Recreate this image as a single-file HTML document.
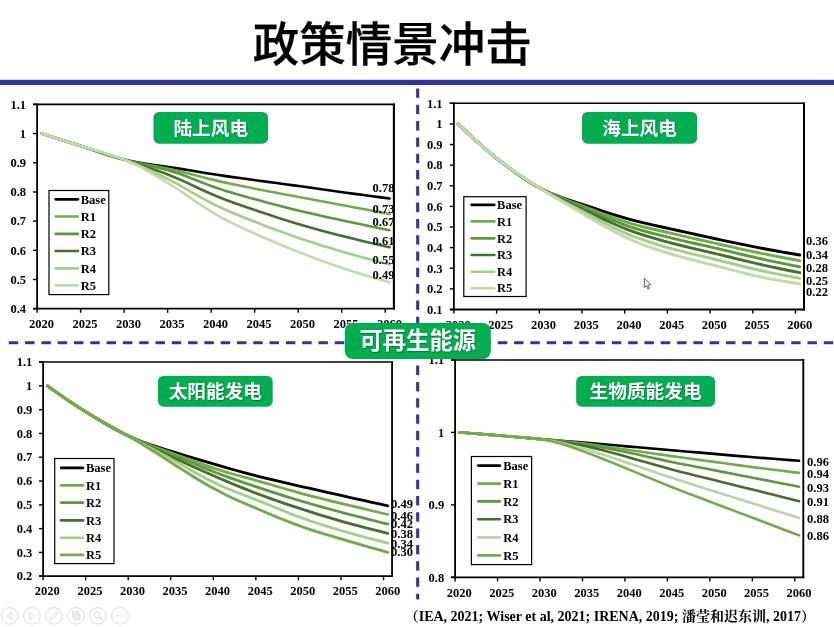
<!DOCTYPE html>
<html lang="zh-CN">
<head>
<meta charset="utf-8">
<title>政策情景冲击</title>
<style>
html,body{margin:0;padding:0;background:#fff;}
body{width:834px;height:627px;overflow:hidden;position:relative;}
svg{position:absolute;left:0;top:0;display:block;}
svg text{font-family:"Liberation Serif", "Noto Serif CJK SC", serif;font-weight:700;font-size:12.5px;fill:#000;}
svg text.bd{font-family:"Liberation Sans","Noto Sans CJK SC",sans-serif;fill:#fff;text-shadow:0.6px 0.8px 1px rgba(0,70,25,.5);}
svg text.ttl{font-family:"Liberation Sans","Noto Sans CJK SC",sans-serif;font-size:46.5px;font-weight:500;stroke:#000;stroke-width:0.25px;}
</style>
</head>
<body>
<svg width="834" height="627" viewBox="0 0 834 627">
<rect width="834" height="627" fill="#ffffff"/>

<text x="392.2" y="60.5" text-anchor="middle" class="ttl">政策情景冲击</text>
<rect x="0" y="79.8" width="834" height="5.25" fill="#333399"/>
<g stroke="#3a2f9e" fill="none">
<line x1="8.8" y1="343.7" x2="834" y2="343.7" stroke="#9a98b8" stroke-opacity=".45" stroke-width="2.6" stroke-dasharray="9.4 6.9"/>
<line x1="418.4" y1="89.3" x2="418.4" y2="600" stroke="#9a98b8" stroke-opacity=".45" stroke-width="2.9" stroke-dasharray="9.3 7"/>
<line x1="8.8" y1="342.6" x2="834" y2="342.6" stroke-width="2.6" stroke-dasharray="9.4 6.9"/>
<line x1="417.6" y1="88.5" x2="417.6" y2="599.2" stroke-width="2.9" stroke-dasharray="9.3 7"/>
</g>
<g>
<polyline points="41.45,133.5 50.15,136.27 58.86,139.03 67.56,141.79 76.26,144.57 84.96,147.39 93.67,150.28 102.37,153.2 111.07,156.01 119.77,158.53 128.48,160.64 137.18,162.34 145.88,163.75 154.58,165 163.29,166.22 171.99,167.49 180.69,168.86 189.39,170.29 198.1,171.74 206.8,173.17 215.5,174.54 224.2,175.85 232.9,177.1 241.61,178.32 250.31,179.51 259.01,180.69 267.71,181.86 276.42,183.02 285.12,184.17 293.82,185.34 302.52,186.53 311.23,187.74 319.93,188.98 328.63,190.22 337.33,191.46 346.04,192.68 354.74,193.88 363.44,195.06 372.14,196.22 380.85,197.36 389.55,198.5" fill="none" stroke="#000000" stroke-width="2.6" stroke-linecap="round" stroke-linejoin="round"/>
<polyline points="41.45,133.5 50.15,136.27 58.86,139.03 67.56,141.79 76.26,144.56 84.96,147.36 93.67,150.2 102.37,153.06 111.07,155.84 119.77,158.43 128.48,160.72 137.18,162.71 145.88,164.46 154.58,166.1 163.29,167.77 171.99,169.59 180.69,171.61 189.39,173.79 198.1,176.04 206.8,178.27 215.5,180.38 224.2,182.36 232.9,184.22 241.61,186.02 250.31,187.77 259.01,189.48 267.71,191.16 276.42,192.82 285.12,194.46 293.82,196.08 302.52,197.7 311.23,199.32 319.93,200.94 328.63,202.56 337.33,204.18 346.04,205.8 354.74,207.44 363.44,209.07 372.14,210.71 380.85,212.35 389.55,214" fill="none" stroke="#70ad47" stroke-width="2.6" stroke-linecap="round" stroke-linejoin="round"/>
<polyline points="41.45,133.5 50.15,136.27 58.86,139.03 67.56,141.79 76.26,144.55 84.96,147.34 93.67,150.15 102.37,152.96 111.07,155.73 119.77,158.36 128.48,160.77 137.18,162.95 145.88,164.94 154.58,166.89 163.29,168.98 171.99,171.41 180.69,174.26 189.39,177.51 198.1,180.96 206.8,184.36 215.5,187.52 224.2,190.39 232.9,193.03 241.61,195.51 250.31,197.92 259.01,200.29 267.71,202.64 276.42,204.95 285.12,207.22 293.82,209.41 302.52,211.53 311.23,213.57 319.93,215.54 328.63,217.45 337.33,219.33 346.04,221.19 354.74,223.03 363.44,224.85 372.14,226.65 380.85,228.43 389.55,230.2" fill="none" stroke="#5a9a3c" stroke-width="2.6" stroke-linecap="round" stroke-linejoin="round"/>
<polyline points="41.45,133.5 50.15,136.27 58.86,139.03 67.56,141.79 76.26,144.54 84.96,147.29 93.67,150.01 102.37,152.74 111.07,155.47 119.77,158.23 128.48,161.02 137.18,163.84 145.88,166.72 154.58,169.68 163.29,172.81 171.99,176.19 180.69,179.89 189.39,183.87 198.1,187.97 206.8,191.97 215.5,195.73 224.2,199.19 232.9,202.42 241.61,205.48 250.31,208.46 259.01,211.4 267.71,214.31 276.42,217.18 285.12,219.99 293.82,222.7 302.52,225.3 311.23,227.78 319.93,230.16 328.63,232.45 337.33,234.68 346.04,236.88 354.74,239.04 363.44,241.16 372.14,243.24 380.85,245.28 389.55,247.3" fill="none" stroke="#45702e" stroke-width="2.6" stroke-linecap="round" stroke-linejoin="round"/>
<polyline points="41.45,133.5 50.15,136.27 58.86,139.03 67.56,141.79 76.26,144.53 84.96,147.25 93.67,149.92 102.37,152.57 111.07,155.28 119.77,158.14 128.48,161.27 137.18,164.71 145.88,168.47 154.58,172.5 163.29,176.75 171.99,181.21 180.69,185.92 189.39,190.83 198.1,195.79 206.8,200.59 215.5,205.06 224.2,209.16 232.9,212.95 241.61,216.53 250.31,219.99 259.01,223.37 267.71,226.7 276.42,229.96 285.12,233.15 293.82,236.24 302.52,239.22 311.23,242.1 319.93,244.89 328.63,247.59 337.33,250.2 346.04,252.75 354.74,255.23 363.44,257.64 372.14,259.98 380.85,262.26 389.55,264.5" fill="none" stroke="#a2d086" stroke-width="2.6" stroke-linecap="round" stroke-linejoin="round"/>
<polyline points="41.45,133.5 50.15,136.27 58.86,139.03 67.56,141.79 76.26,144.53 84.96,147.22 93.67,149.86 102.37,152.47 111.07,155.16 119.77,158.1 128.48,161.48 137.18,165.4 145.88,169.88 154.58,174.8 163.29,180.03 171.99,185.51 180.69,191.23 189.39,197.16 198.1,203.13 206.8,208.86 215.5,214.17 224.2,218.99 232.9,223.42 241.61,227.58 250.31,231.57 259.01,235.45 267.71,239.26 276.42,242.97 285.12,246.59 293.82,250.11 302.52,253.54 311.23,256.87 319.93,260.11 328.63,263.26 337.33,266.29 346.04,269.21 354.74,272.03 363.44,274.73 372.14,277.33 380.85,279.85 389.55,282.3" fill="none" stroke="#c0dbab" stroke-width="2.6" stroke-linecap="round" stroke-linejoin="round"/>
<text x="372.5" y="191.85">0.78</text>
<text x="372.5" y="212.55">0.73</text>
<text x="372.5" y="226.05">0.67</text>
<text x="372.5" y="244.55">0.61</text>
<text x="372.5" y="264.25">0.55</text>
<text x="372.5" y="278.55">0.49</text>
<line x1="37.1" y1="103.6" x2="37.1" y2="309.6" stroke="#000" stroke-width="1.8"/>
<line x1="33" y1="308.7" x2="394.95" y2="308.7" stroke="#000" stroke-width="1.8"/>
<line x1="393.9" y1="103.6" x2="393.9" y2="309.6" stroke="#000" stroke-width="2.1"/>
<line x1="33" y1="104.4" x2="394.95" y2="104.4" stroke="#000" stroke-width="1.6"/>
<line x1="33" y1="104.4" x2="37.1" y2="104.4" stroke="#000" stroke-width="1.4"/>
<text x="26" y="108.65" text-anchor="end">1.1</text>
<line x1="33" y1="133.59" x2="37.1" y2="133.59" stroke="#000" stroke-width="1.4"/>
<text x="26" y="137.84" text-anchor="end">1</text>
<line x1="33" y1="162.77" x2="37.1" y2="162.77" stroke="#000" stroke-width="1.4"/>
<text x="26" y="167.02" text-anchor="end">0.9</text>
<line x1="33" y1="191.96" x2="37.1" y2="191.96" stroke="#000" stroke-width="1.4"/>
<text x="26" y="196.21" text-anchor="end">0.8</text>
<line x1="33" y1="221.14" x2="37.1" y2="221.14" stroke="#000" stroke-width="1.4"/>
<text x="26" y="225.39" text-anchor="end">0.7</text>
<line x1="33" y1="250.33" x2="37.1" y2="250.33" stroke="#000" stroke-width="1.4"/>
<text x="26" y="254.58" text-anchor="end">0.6</text>
<line x1="33" y1="279.52" x2="37.1" y2="279.52" stroke="#000" stroke-width="1.4"/>
<text x="26" y="283.77" text-anchor="end">0.5</text>
<line x1="33" y1="308.7" x2="37.1" y2="308.7" stroke="#000" stroke-width="1.4"/>
<text x="26" y="312.95" text-anchor="end">0.4</text>
<line x1="37.1" y1="308.7" x2="37.1" y2="312.8" stroke="#000" stroke-width="1.4"/>
<text x="41.45" y="328.2" text-anchor="middle">2020</text>
<line x1="80.61" y1="308.7" x2="80.61" y2="312.8" stroke="#000" stroke-width="1.4"/>
<text x="84.96" y="328.2" text-anchor="middle">2025</text>
<line x1="124.12" y1="308.7" x2="124.12" y2="312.8" stroke="#000" stroke-width="1.4"/>
<text x="128.48" y="328.2" text-anchor="middle">2030</text>
<line x1="167.64" y1="308.7" x2="167.64" y2="312.8" stroke="#000" stroke-width="1.4"/>
<text x="171.99" y="328.2" text-anchor="middle">2035</text>
<line x1="211.15" y1="308.7" x2="211.15" y2="312.8" stroke="#000" stroke-width="1.4"/>
<text x="215.5" y="328.2" text-anchor="middle">2040</text>
<line x1="254.66" y1="308.7" x2="254.66" y2="312.8" stroke="#000" stroke-width="1.4"/>
<text x="259.01" y="328.2" text-anchor="middle">2045</text>
<line x1="298.17" y1="308.7" x2="298.17" y2="312.8" stroke="#000" stroke-width="1.4"/>
<text x="302.52" y="328.2" text-anchor="middle">2050</text>
<line x1="341.69" y1="308.7" x2="341.69" y2="312.8" stroke="#000" stroke-width="1.4"/>
<text x="346.04" y="328.2" text-anchor="middle">2055</text>
<line x1="385.2" y1="308.7" x2="385.2" y2="312.8" stroke="#000" stroke-width="1.4"/>
<text x="389.55" y="328.2" text-anchor="middle">2060</text>
<rect x="49" y="190.5" width="59.8" height="104.1" fill="#fff" stroke="#000" stroke-width="1.2"/>
<line x1="55.7" y1="199.3" x2="77.9" y2="199.3" stroke="#000000" stroke-width="2.65" stroke-linecap="round"/>
<text x="80.7" y="203.55">Base</text>
<line x1="55.7" y1="216.5" x2="77.9" y2="216.5" stroke="#70ad47" stroke-width="2.65" stroke-linecap="round"/>
<text x="80.7" y="220.75">R1</text>
<line x1="55.7" y1="233.9" x2="77.9" y2="233.9" stroke="#5a9a3c" stroke-width="2.65" stroke-linecap="round"/>
<text x="80.7" y="238.15">R2</text>
<line x1="55.7" y1="251" x2="77.9" y2="251" stroke="#45702e" stroke-width="2.65" stroke-linecap="round"/>
<text x="80.7" y="255.25">R3</text>
<line x1="55.7" y1="268.4" x2="77.9" y2="268.4" stroke="#a2d086" stroke-width="2.65" stroke-linecap="round"/>
<text x="80.7" y="272.65">R4</text>
<line x1="55.7" y1="285.4" x2="77.9" y2="285.4" stroke="#c0dbab" stroke-width="2.65" stroke-linecap="round"/>
<text x="80.7" y="289.65">R5</text>
</g>
<g>
<polyline points="458.17,124 466.71,132.1 475.25,140 483.79,147.56 492.33,154.76 500.86,161.61 509.4,168.16 517.94,174.4 526.48,180.21 535.02,185.42 543.56,189.92 552.1,193.75 560.64,197.05 569.18,200.02 577.72,202.85 586.25,205.66 594.79,208.5 603.33,211.34 611.87,214.1 620.41,216.71 628.95,219.13 637.49,221.34 646.03,223.39 654.57,225.34 663.11,227.23 671.65,229.12 680.18,231.01 688.72,232.9 697.26,234.78 705.8,236.64 714.34,238.49 722.88,240.33 731.42,242.14 739.96,243.93 748.5,245.67 757.04,247.35 765.57,248.98 774.11,250.55 782.65,252.07 791.19,253.55 799.73,255" fill="none" stroke="#000000" stroke-width="2.9" stroke-linecap="round" stroke-linejoin="round"/>
<polyline points="458.17,124 466.71,132.1 475.25,140 483.79,147.56 492.33,154.75 500.86,161.58 509.4,168.09 517.94,174.28 526.48,180.07 535.02,185.34 543.56,190 552.1,194.08 560.64,197.68 569.18,200.99 577.72,204.19 586.25,207.4 594.79,210.69 603.33,213.99 611.87,217.21 620.41,220.22 628.95,222.94 637.49,225.35 646.03,227.51 654.57,229.53 663.11,231.48 671.65,233.42 680.18,235.37 688.72,237.32 697.26,239.26 705.8,241.18 714.34,243.1 722.88,245.02 731.42,246.93 739.96,248.81 748.5,250.66 757.04,252.46 765.57,254.2 774.11,255.88 782.65,257.53 791.19,259.13 799.73,260.7" fill="none" stroke="#70ad47" stroke-width="2.9" stroke-linecap="round" stroke-linejoin="round"/>
<polyline points="458.17,124 466.71,132.1 475.25,140 483.79,147.56 492.33,154.75 500.86,161.56 509.4,168.03 517.94,174.18 526.48,179.95 535.02,185.27 543.56,190.08 552.1,194.38 560.64,198.28 569.18,201.91 577.72,205.45 586.25,209.01 594.79,212.65 603.33,216.33 611.87,219.91 620.41,223.27 628.95,226.32 637.49,229.05 646.03,231.51 654.57,233.8 663.11,235.96 671.65,238.05 680.18,240.08 688.72,242.04 697.26,243.97 705.8,245.89 714.34,247.85 722.88,249.87 731.42,251.92 739.96,253.97 748.5,255.99 757.04,257.94 765.57,259.82 774.11,261.64 782.65,263.4 791.19,265.12 799.73,266.8" fill="none" stroke="#5a9a3c" stroke-width="2.9" stroke-linecap="round" stroke-linejoin="round"/>
<polyline points="458.17,124 466.71,132.1 475.25,140 483.79,147.56 492.33,154.74 500.86,161.53 509.4,167.97 517.94,174.06 526.48,179.82 535.02,185.2 543.56,190.18 552.1,194.77 560.64,199.03 569.18,203.07 577.72,207.03 586.25,211 594.79,215.03 603.33,219.08 611.87,223.03 620.41,226.73 628.95,230.11 637.49,233.15 646.03,235.9 654.57,238.45 663.11,240.84 671.65,243.12 680.18,245.28 688.72,247.34 697.26,249.35 705.8,251.33 714.34,253.35 722.88,255.41 731.42,257.51 739.96,259.6 748.5,261.65 757.04,263.64 765.57,265.56 774.11,267.42 782.65,269.22 791.19,270.98 799.73,272.7" fill="none" stroke="#45702e" stroke-width="2.9" stroke-linecap="round" stroke-linejoin="round"/>
<polyline points="458.17,124 466.71,132.1 475.25,140 483.79,147.56 492.33,154.73 500.86,161.5 509.4,167.89 517.94,173.93 526.48,179.66 535.02,185.11 543.56,190.3 552.1,195.22 560.64,199.92 569.18,204.45 577.72,208.91 586.25,213.39 594.79,217.91 603.33,222.43 611.87,226.83 620.41,230.94 628.95,234.66 637.49,237.98 646.03,240.98 654.57,243.72 663.11,246.28 671.65,248.69 680.18,250.95 688.72,253.09 697.26,255.15 705.8,257.19 714.34,259.26 722.88,261.37 731.42,263.52 739.96,265.66 748.5,267.73 757.04,269.72 765.57,271.61 774.11,273.41 782.65,275.13 791.19,276.79 799.73,278.4" fill="none" stroke="#a2d086" stroke-width="2.9" stroke-linecap="round" stroke-linejoin="round"/>
<polyline points="458.17,124 466.71,132.1 475.25,140 483.79,147.56 492.33,154.73 500.86,161.48 509.4,167.82 517.94,173.81 526.48,179.53 535.02,185.04 543.56,190.42 552.1,195.68 560.64,200.81 569.18,205.84 577.72,210.8 586.25,215.74 594.79,220.69 603.33,225.6 611.87,230.36 620.41,234.81 628.95,238.86 637.49,242.5 646.03,245.8 654.57,248.83 663.11,251.64 671.65,254.26 680.18,256.69 688.72,258.97 697.26,261.15 705.8,263.3 714.34,265.46 722.88,267.68 731.42,269.93 739.96,272.13 748.5,274.23 757.04,276.17 765.57,277.96 774.11,279.61 782.65,281.13 791.19,282.55 799.73,283.9" fill="none" stroke="#c0dbab" stroke-width="2.9" stroke-linecap="round" stroke-linejoin="round"/>
<text x="806" y="245.45">0.36</text>
<text x="806" y="259.25">0.34</text>
<text x="806" y="271.85">0.28</text>
<text x="806" y="285.05">0.25</text>
<text x="806" y="296.25">0.22</text>
<line x1="453.9" y1="102.5" x2="453.9" y2="310.4" stroke="#000" stroke-width="1.8"/>
<line x1="449.8" y1="309.5" x2="805" y2="309.5" stroke="#000" stroke-width="1.8"/>
<line x1="804" y1="102.5" x2="804" y2="310.4" stroke="#000" stroke-width="2"/>
<line x1="449.8" y1="103.3" x2="805" y2="103.3" stroke="#000" stroke-width="1.6"/>
<line x1="449.8" y1="103.3" x2="453.9" y2="103.3" stroke="#000" stroke-width="1.4"/>
<text x="442.6" y="107.55" text-anchor="end">1.1</text>
<line x1="449.8" y1="123.92" x2="453.9" y2="123.92" stroke="#000" stroke-width="1.4"/>
<text x="442.6" y="128.17" text-anchor="end">1</text>
<line x1="449.8" y1="144.54" x2="453.9" y2="144.54" stroke="#000" stroke-width="1.4"/>
<text x="442.6" y="148.79" text-anchor="end">0.9</text>
<line x1="449.8" y1="165.16" x2="453.9" y2="165.16" stroke="#000" stroke-width="1.4"/>
<text x="442.6" y="169.41" text-anchor="end">0.8</text>
<line x1="449.8" y1="185.78" x2="453.9" y2="185.78" stroke="#000" stroke-width="1.4"/>
<text x="442.6" y="190.03" text-anchor="end">0.7</text>
<line x1="449.8" y1="206.4" x2="453.9" y2="206.4" stroke="#000" stroke-width="1.4"/>
<text x="442.6" y="210.65" text-anchor="end">0.6</text>
<line x1="449.8" y1="227.02" x2="453.9" y2="227.02" stroke="#000" stroke-width="1.4"/>
<text x="442.6" y="231.27" text-anchor="end">0.5</text>
<line x1="449.8" y1="247.64" x2="453.9" y2="247.64" stroke="#000" stroke-width="1.4"/>
<text x="442.6" y="251.89" text-anchor="end">0.4</text>
<line x1="449.8" y1="268.26" x2="453.9" y2="268.26" stroke="#000" stroke-width="1.4"/>
<text x="442.6" y="272.51" text-anchor="end">0.3</text>
<line x1="449.8" y1="288.88" x2="453.9" y2="288.88" stroke="#000" stroke-width="1.4"/>
<text x="442.6" y="293.13" text-anchor="end">0.2</text>
<line x1="449.8" y1="309.5" x2="453.9" y2="309.5" stroke="#000" stroke-width="1.4"/>
<text x="442.6" y="313.75" text-anchor="end">0.1</text>
<line x1="453.9" y1="309.5" x2="453.9" y2="313.6" stroke="#000" stroke-width="1.4"/>
<text x="458.17" y="329" text-anchor="middle">2020</text>
<line x1="496.6" y1="309.5" x2="496.6" y2="313.6" stroke="#000" stroke-width="1.4"/>
<text x="500.86" y="329" text-anchor="middle">2025</text>
<line x1="539.29" y1="309.5" x2="539.29" y2="313.6" stroke="#000" stroke-width="1.4"/>
<text x="543.56" y="329" text-anchor="middle">2030</text>
<line x1="581.99" y1="309.5" x2="581.99" y2="313.6" stroke="#000" stroke-width="1.4"/>
<text x="586.25" y="329" text-anchor="middle">2035</text>
<line x1="624.68" y1="309.5" x2="624.68" y2="313.6" stroke="#000" stroke-width="1.4"/>
<text x="628.95" y="329" text-anchor="middle">2040</text>
<line x1="667.38" y1="309.5" x2="667.38" y2="313.6" stroke="#000" stroke-width="1.4"/>
<text x="671.65" y="329" text-anchor="middle">2045</text>
<line x1="710.07" y1="309.5" x2="710.07" y2="313.6" stroke="#000" stroke-width="1.4"/>
<text x="714.34" y="329" text-anchor="middle">2050</text>
<line x1="752.77" y1="309.5" x2="752.77" y2="313.6" stroke="#000" stroke-width="1.4"/>
<text x="757.04" y="329" text-anchor="middle">2055</text>
<line x1="795.46" y1="309.5" x2="795.46" y2="313.6" stroke="#000" stroke-width="1.4"/>
<text x="799.73" y="329" text-anchor="middle">2060</text>
<rect x="463.8" y="196.7" width="62.3" height="99.8" fill="#fff" stroke="#000" stroke-width="1.2"/>
<line x1="471.6" y1="204.8" x2="494.3" y2="204.8" stroke="#000000" stroke-width="2.65" stroke-linecap="round"/>
<text x="497.1" y="209.05">Base</text>
<line x1="471.6" y1="221.3" x2="494.3" y2="221.3" stroke="#70ad47" stroke-width="2.65" stroke-linecap="round"/>
<text x="497.1" y="225.55">R1</text>
<line x1="471.6" y1="238.3" x2="494.3" y2="238.3" stroke="#5a9a3c" stroke-width="2.65" stroke-linecap="round"/>
<text x="497.1" y="242.55">R2</text>
<line x1="471.6" y1="255" x2="494.3" y2="255" stroke="#45702e" stroke-width="2.65" stroke-linecap="round"/>
<text x="497.1" y="259.25">R3</text>
<line x1="471.6" y1="271.7" x2="494.3" y2="271.7" stroke="#a2d086" stroke-width="2.65" stroke-linecap="round"/>
<text x="497.1" y="275.95">R4</text>
<line x1="471.6" y1="288.2" x2="494.3" y2="288.2" stroke="#c0dbab" stroke-width="2.65" stroke-linecap="round"/>
<text x="497.1" y="292.45">R5</text>
</g>
<g>
<polyline points="47.36,385.9 55.87,391.91 64.38,397.8 72.89,403.53 81.4,409.06 89.91,414.42 98.42,419.64 106.93,424.69 115.44,429.48 123.95,433.88 132.47,437.79 140.98,441.23 149.49,444.28 158,447.09 166.51,449.77 175.02,452.41 183.53,455.03 192.04,457.63 200.55,460.19 209.06,462.7 217.57,465.18 226.09,467.61 234.6,470.01 243.11,472.36 251.62,474.63 260.13,476.82 268.64,478.93 277.15,480.95 285.66,482.92 294.17,484.87 302.68,486.8 311.2,488.74 319.71,490.66 328.22,492.58 336.73,494.49 345.24,496.39 353.75,498.29 362.26,500.18 370.77,502.06 379.28,503.93 387.79,505.8" fill="none" stroke="#000000" stroke-width="2.8" stroke-linecap="round" stroke-linejoin="round"/>
<polyline points="47.36,385.9 55.87,391.91 64.38,397.8 72.89,403.52 81.4,409.05 89.91,414.39 98.42,419.57 106.93,424.58 115.44,429.35 123.95,433.8 132.47,437.87 140.98,441.56 149.49,444.92 158,448.09 166.51,451.17 175.02,454.27 183.53,457.4 192.04,460.55 200.55,463.65 209.06,466.63 217.57,469.43 226.09,472.04 234.6,474.49 243.11,476.84 251.62,479.19 260.13,481.57 268.64,484.02 277.15,486.52 285.66,489.02 294.17,491.46 302.68,493.81 311.2,496.05 319.71,498.2 328.22,500.29 336.73,502.35 345.24,504.4 353.75,506.44 362.26,508.48 370.77,510.5 379.28,512.5 387.79,514.5" fill="none" stroke="#70ad47" stroke-width="2.8" stroke-linecap="round" stroke-linejoin="round"/>
<polyline points="47.36,385.9 55.87,391.91 64.38,397.8 72.89,403.52 81.4,409.05 89.91,414.37 98.42,419.52 106.93,424.48 115.44,429.24 123.95,433.74 132.47,437.95 140.98,441.87 149.49,445.54 158,449.05 166.51,452.5 175.02,455.96 183.53,459.47 192.04,462.99 200.55,466.49 209.06,469.9 217.57,473.19 226.09,476.35 234.6,479.39 243.11,482.35 251.62,485.23 260.13,488.08 268.64,490.88 277.15,493.64 285.66,496.34 294.17,498.98 302.68,501.53 311.2,504 319.71,506.4 328.22,508.73 336.73,511.02 345.24,513.28 353.75,515.51 362.26,517.7 370.77,519.86 379.28,521.99 387.79,524.1" fill="none" stroke="#5a9a3c" stroke-width="2.8" stroke-linecap="round" stroke-linejoin="round"/>
<polyline points="47.36,385.9 55.87,391.91 64.38,397.8 72.89,403.52 81.4,409.04 89.91,414.34 98.42,419.44 106.93,424.35 115.44,429.09 123.95,433.66 132.47,438.08 140.98,442.35 149.49,446.48 158,450.5 166.51,454.47 175.02,458.4 183.53,462.32 192.04,466.22 200.55,470.06 209.06,473.84 217.57,477.54 226.09,481.15 234.6,484.68 243.11,488.13 251.62,491.48 260.13,494.71 268.64,497.84 277.15,500.87 285.66,503.81 294.17,506.67 302.68,509.45 311.2,512.18 319.71,514.83 328.22,517.42 336.73,519.92 345.24,522.34 353.75,524.67 362.26,526.93 370.77,529.11 379.28,531.23 387.79,533.3" fill="none" stroke="#486d2c" stroke-width="2.8" stroke-linecap="round" stroke-linejoin="round"/>
<polyline points="47.36,385.9 55.87,391.91 64.38,397.8 72.89,403.52 81.4,409.03 89.91,414.32 98.42,419.37 106.93,424.23 115.44,428.95 123.95,433.59 132.47,438.19 140.98,442.77 149.49,447.33 158,451.89 166.51,456.46 175.02,461.12 183.53,465.87 192.04,470.69 200.55,475.45 209.06,479.98 217.57,484.16 226.09,487.97 234.6,491.48 243.11,494.8 251.62,498.08 260.13,501.41 268.64,504.82 277.15,508.3 285.66,511.75 294.17,515.08 302.68,518.24 311.2,521.21 319.71,524.01 328.22,526.69 336.73,529.26 345.24,531.75 353.75,534.16 362.26,536.5 370.77,538.76 379.28,540.95 387.79,543.1" fill="none" stroke="#a2d086" stroke-width="2.8" stroke-linecap="round" stroke-linejoin="round"/>
<polyline points="47.36,385.9 55.87,391.91 64.38,397.8 72.89,403.52 81.4,409.02 89.91,414.28 98.42,419.28 106.93,424.07 115.44,428.77 123.95,433.5 132.47,438.4 140.98,443.51 149.49,448.8 158,454.19 166.51,459.6 175.02,465 183.53,470.38 192.04,475.73 200.55,480.96 209.06,485.94 217.57,490.6 226.09,494.9 234.6,498.9 243.11,502.7 251.62,506.38 260.13,510.01 268.64,513.61 277.15,517.17 285.66,520.63 294.17,523.93 302.68,527.02 311.2,529.91 319.71,532.61 328.22,535.2 336.73,537.71 345.24,540.2 353.75,542.67 362.26,545.12 370.77,547.54 379.28,549.93 387.79,552.3" fill="none" stroke="#70ad47" stroke-width="2.8" stroke-linecap="round" stroke-linejoin="round"/>
<text x="391" y="508.15">0.49</text>
<text x="391" y="520.25">0.46</text>
<text x="391" y="527.65">0.42</text>
<text x="391" y="537.85">0.38</text>
<text x="391" y="548.05">0.34</text>
<text x="391" y="556.25">0.30</text>
<line x1="43.1" y1="361.25" x2="43.1" y2="577.1" stroke="#000" stroke-width="1.8"/>
<line x1="39" y1="576.2" x2="392.95" y2="576.2" stroke="#000" stroke-width="1.8"/>
<line x1="392.05" y1="361.25" x2="392.05" y2="577.1" stroke="#000" stroke-width="1.8"/>
<line x1="39" y1="362.05" x2="392.95" y2="362.05" stroke="#000" stroke-width="1.6"/>
<line x1="39" y1="362.05" x2="43.1" y2="362.05" stroke="#000" stroke-width="1.4"/>
<text x="32.3" y="366.3" text-anchor="end">1.1</text>
<line x1="39" y1="385.85" x2="43.1" y2="385.85" stroke="#000" stroke-width="1.4"/>
<text x="32.3" y="390.1" text-anchor="end">1</text>
<line x1="39" y1="409.64" x2="43.1" y2="409.64" stroke="#000" stroke-width="1.4"/>
<text x="32.3" y="413.89" text-anchor="end">0.9</text>
<line x1="39" y1="433.44" x2="43.1" y2="433.44" stroke="#000" stroke-width="1.4"/>
<text x="32.3" y="437.69" text-anchor="end">0.8</text>
<line x1="39" y1="457.23" x2="43.1" y2="457.23" stroke="#000" stroke-width="1.4"/>
<text x="32.3" y="461.48" text-anchor="end">0.7</text>
<line x1="39" y1="481.03" x2="43.1" y2="481.03" stroke="#000" stroke-width="1.4"/>
<text x="32.3" y="485.28" text-anchor="end">0.6</text>
<line x1="39" y1="504.82" x2="43.1" y2="504.82" stroke="#000" stroke-width="1.4"/>
<text x="32.3" y="509.07" text-anchor="end">0.5</text>
<line x1="39" y1="528.62" x2="43.1" y2="528.62" stroke="#000" stroke-width="1.4"/>
<text x="32.3" y="532.87" text-anchor="end">0.4</text>
<line x1="39" y1="552.41" x2="43.1" y2="552.41" stroke="#000" stroke-width="1.4"/>
<text x="32.3" y="556.66" text-anchor="end">0.3</text>
<line x1="39" y1="576.21" x2="43.1" y2="576.21" stroke="#000" stroke-width="1.4"/>
<text x="32.3" y="580.46" text-anchor="end">0.2</text>
<line x1="43.1" y1="576.2" x2="43.1" y2="580.3" stroke="#000" stroke-width="1.4"/>
<text x="47.36" y="595.4" text-anchor="middle">2020</text>
<line x1="85.65" y1="576.2" x2="85.65" y2="580.3" stroke="#000" stroke-width="1.4"/>
<text x="89.91" y="595.4" text-anchor="middle">2025</text>
<line x1="128.21" y1="576.2" x2="128.21" y2="580.3" stroke="#000" stroke-width="1.4"/>
<text x="132.47" y="595.4" text-anchor="middle">2030</text>
<line x1="170.76" y1="576.2" x2="170.76" y2="580.3" stroke="#000" stroke-width="1.4"/>
<text x="175.02" y="595.4" text-anchor="middle">2035</text>
<line x1="213.32" y1="576.2" x2="213.32" y2="580.3" stroke="#000" stroke-width="1.4"/>
<text x="217.57" y="595.4" text-anchor="middle">2040</text>
<line x1="255.87" y1="576.2" x2="255.87" y2="580.3" stroke="#000" stroke-width="1.4"/>
<text x="260.13" y="595.4" text-anchor="middle">2045</text>
<line x1="298.43" y1="576.2" x2="298.43" y2="580.3" stroke="#000" stroke-width="1.4"/>
<text x="302.68" y="595.4" text-anchor="middle">2050</text>
<line x1="340.98" y1="576.2" x2="340.98" y2="580.3" stroke="#000" stroke-width="1.4"/>
<text x="345.24" y="595.4" text-anchor="middle">2055</text>
<line x1="383.54" y1="576.2" x2="383.54" y2="580.3" stroke="#000" stroke-width="1.4"/>
<text x="387.79" y="595.4" text-anchor="middle">2060</text>
<rect x="54.7" y="458.5" width="59.3" height="105.1" fill="#fff" stroke="#000" stroke-width="1.2"/>
<line x1="61.1" y1="467.8" x2="83" y2="467.8" stroke="#000000" stroke-width="2.65" stroke-linecap="round"/>
<text x="86" y="472.05">Base</text>
<line x1="61.1" y1="485.4" x2="83" y2="485.4" stroke="#70ad47" stroke-width="2.65" stroke-linecap="round"/>
<text x="86" y="489.65">R1</text>
<line x1="61.1" y1="502.6" x2="83" y2="502.6" stroke="#5a9a3c" stroke-width="2.65" stroke-linecap="round"/>
<text x="86" y="506.85">R2</text>
<line x1="61.1" y1="520.3" x2="83" y2="520.3" stroke="#486d2c" stroke-width="2.65" stroke-linecap="round"/>
<text x="86" y="524.55">R3</text>
<line x1="61.1" y1="537.7" x2="83" y2="537.7" stroke="#a2d086" stroke-width="2.65" stroke-linecap="round"/>
<text x="86" y="541.95">R4</text>
<line x1="61.1" y1="554.9" x2="83" y2="554.9" stroke="#70ad47" stroke-width="2.65" stroke-linecap="round"/>
<text x="86" y="559.15">R5</text>
</g>
<g>
<polyline points="459.35,432.4 467.84,433.07 476.33,433.74 484.82,434.42 493.32,435.11 501.81,435.81 510.3,436.52 518.8,437.24 527.29,437.96 535.78,438.68 544.27,439.38 552.77,440.08 561.26,440.75 569.75,441.43 578.24,442.12 586.74,442.82 595.23,443.56 603.72,444.31 612.21,445.07 620.71,445.83 629.2,446.59 637.69,447.32 646.19,448.05 654.68,448.76 663.17,449.48 671.66,450.21 680.16,450.94 688.65,451.68 697.14,452.42 705.63,453.16 714.13,453.9 722.62,454.63 731.11,455.36 739.6,456.08 748.1,456.79 756.59,457.49 765.08,458.16 773.58,458.81 782.07,459.46 790.56,460.08 799.05,460.7" fill="none" stroke="#000000" stroke-width="2.6" stroke-linecap="round" stroke-linejoin="round"/>
<polyline points="459.35,432.4 467.84,433.07 476.33,433.74 484.82,434.42 493.32,435.11 501.81,435.8 510.3,436.5 518.8,437.2 527.29,437.92 535.78,438.66 544.27,439.42 552.77,440.22 561.26,441.06 569.75,441.93 578.24,442.87 586.74,443.88 595.23,444.99 603.72,446.18 612.21,447.44 620.71,448.71 629.2,449.98 637.69,451.22 646.19,452.46 654.68,453.68 663.17,454.89 671.66,456.09 680.16,457.27 688.65,458.44 697.14,459.6 705.63,460.75 714.13,461.9 722.62,463.05 731.11,464.2 739.6,465.34 748.1,466.47 756.59,467.59 765.08,468.68 773.58,469.76 782.07,470.82 790.56,471.86 799.05,472.9" fill="none" stroke="#70ad47" stroke-width="2.6" stroke-linecap="round" stroke-linejoin="round"/>
<polyline points="459.35,432.4 467.84,433.07 476.33,433.74 484.82,434.42 493.32,435.11 501.81,435.8 510.3,436.48 518.8,437.18 527.29,437.89 535.78,438.64 544.27,439.45 552.77,440.34 561.26,441.29 569.75,442.33 578.24,443.47 586.74,444.71 595.23,446.1 603.72,447.62 612.21,449.26 620.71,450.97 629.2,452.74 637.69,454.55 646.19,456.41 654.68,458.28 663.17,460.14 671.66,461.93 680.16,463.66 688.65,465.33 697.14,466.96 705.63,468.58 714.13,470.22 722.62,471.86 731.11,473.52 739.6,475.18 748.1,476.84 756.59,478.5 765.08,480.14 773.58,481.79 782.07,483.43 790.56,485.07 799.05,486.7" fill="none" stroke="#5a9a3c" stroke-width="2.6" stroke-linecap="round" stroke-linejoin="round"/>
<polyline points="459.35,432.4 467.84,433.07 476.33,433.74 484.82,434.42 493.32,435.11 501.81,435.79 510.3,436.46 518.8,437.14 527.29,437.84 535.78,438.63 544.27,439.53 552.77,440.59 561.26,441.81 569.75,443.2 578.24,444.75 586.74,446.46 595.23,448.37 603.72,450.49 612.21,452.76 620.71,455.12 629.2,457.5 637.69,459.9 646.19,462.32 654.68,464.74 663.17,467.12 671.66,469.42 680.16,471.65 688.65,473.81 697.14,475.92 705.63,478.01 714.13,480.11 722.62,482.2 731.11,484.3 739.6,486.4 748.1,488.5 756.59,490.6 765.08,492.72 773.58,494.83 782.07,496.95 790.56,499.07 799.05,501.2" fill="none" stroke="#4b6b2e" stroke-width="2.6" stroke-linecap="round" stroke-linejoin="round"/>
<polyline points="459.35,432.4 467.84,433.07 476.33,433.74 484.82,434.42 493.32,435.1 501.81,435.78 510.3,436.43 518.8,437.09 527.29,437.79 535.78,438.62 544.27,439.68 552.77,441.08 561.26,442.84 569.75,444.91 578.24,447.18 586.74,449.59 595.23,452.13 603.72,454.82 612.21,457.63 620.71,460.5 629.2,463.4 637.69,466.3 646.19,469.22 654.68,472.13 663.17,475.01 671.66,477.84 680.16,480.61 688.65,483.31 697.14,485.99 705.63,488.65 714.13,491.3 722.62,493.96 731.11,496.62 739.6,499.28 748.1,501.94 756.59,504.6 765.08,507.28 773.58,509.95 782.07,512.63 790.56,515.31 799.05,518" fill="none" stroke="#bad4a9" stroke-width="2.6" stroke-linecap="round" stroke-linejoin="round"/>
<polyline points="459.35,432.4 467.84,433.07 476.33,433.74 484.82,434.42 493.32,435.1 501.81,435.77 510.3,436.42 518.8,437.06 527.29,437.76 535.78,438.63 544.27,439.83 552.77,441.54 561.26,443.81 569.75,446.53 578.24,449.52 586.74,452.64 595.23,455.85 603.72,459.17 612.21,462.6 620.71,466.09 629.2,469.6 637.69,473.11 646.19,476.64 654.68,480.15 663.17,483.62 671.66,487.03 680.16,490.35 688.65,493.6 697.14,496.82 705.63,500.01 714.13,503.21 722.62,506.42 731.11,509.64 739.6,512.86 748.1,516.08 756.59,519.3 765.08,522.52 773.58,525.74 782.07,528.96 790.56,532.18 799.05,535.4" fill="none" stroke="#70ad47" stroke-width="2.6" stroke-linecap="round" stroke-linejoin="round"/>
<text x="807" y="465.85">0.96</text>
<text x="807" y="478.25">0.94</text>
<text x="807" y="491.95">0.93</text>
<text x="807" y="506.25">0.91</text>
<text x="807" y="522.65">0.88</text>
<text x="807" y="539.65">0.86</text>
<line x1="455.1" y1="359.15" x2="455.1" y2="578.2" stroke="#000" stroke-width="1.8"/>
<line x1="451" y1="577.3" x2="804.25" y2="577.3" stroke="#000" stroke-width="1.8"/>
<line x1="803.3" y1="359.15" x2="803.3" y2="578.2" stroke="#000" stroke-width="1.9"/>
<line x1="451" y1="360" x2="804.25" y2="360" stroke="#000" stroke-width="1.7"/>
<line x1="451" y1="360" x2="455.1" y2="360" stroke="#000" stroke-width="1.4"/>
<text x="444.2" y="364.25" text-anchor="end">1.1</text>
<line x1="451" y1="432.4" x2="455.1" y2="432.4" stroke="#000" stroke-width="1.4"/>
<text x="444.2" y="436.65" text-anchor="end">1</text>
<line x1="451" y1="504.9" x2="455.1" y2="504.9" stroke="#000" stroke-width="1.4"/>
<text x="444.2" y="509.15" text-anchor="end">0.9</text>
<line x1="451" y1="577.3" x2="455.1" y2="577.3" stroke="#000" stroke-width="1.4"/>
<text x="444.2" y="581.55" text-anchor="end">0.8</text>
<line x1="455.1" y1="577.3" x2="455.1" y2="581.4" stroke="#000" stroke-width="1.4"/>
<text x="459.35" y="597.2" text-anchor="middle">2020</text>
<line x1="497.56" y1="577.3" x2="497.56" y2="581.4" stroke="#000" stroke-width="1.4"/>
<text x="501.81" y="597.2" text-anchor="middle">2025</text>
<line x1="540.03" y1="577.3" x2="540.03" y2="581.4" stroke="#000" stroke-width="1.4"/>
<text x="544.27" y="597.2" text-anchor="middle">2030</text>
<line x1="582.49" y1="577.3" x2="582.49" y2="581.4" stroke="#000" stroke-width="1.4"/>
<text x="586.74" y="597.2" text-anchor="middle">2035</text>
<line x1="624.95" y1="577.3" x2="624.95" y2="581.4" stroke="#000" stroke-width="1.4"/>
<text x="629.2" y="597.2" text-anchor="middle">2040</text>
<line x1="667.42" y1="577.3" x2="667.42" y2="581.4" stroke="#000" stroke-width="1.4"/>
<text x="671.66" y="597.2" text-anchor="middle">2045</text>
<line x1="709.88" y1="577.3" x2="709.88" y2="581.4" stroke="#000" stroke-width="1.4"/>
<text x="714.13" y="597.2" text-anchor="middle">2050</text>
<line x1="752.34" y1="577.3" x2="752.34" y2="581.4" stroke="#000" stroke-width="1.4"/>
<text x="756.59" y="597.2" text-anchor="middle">2055</text>
<line x1="794.81" y1="577.3" x2="794.81" y2="581.4" stroke="#000" stroke-width="1.4"/>
<text x="799.05" y="597.2" text-anchor="middle">2060</text>
<rect x="471.4" y="456.5" width="60.2" height="108.1" fill="#fff" stroke="#000" stroke-width="1.2"/>
<line x1="478.3" y1="465.6" x2="499.9" y2="465.6" stroke="#000000" stroke-width="2.65" stroke-linecap="round"/>
<text x="503.2" y="469.85">Base</text>
<line x1="478.3" y1="483.6" x2="499.9" y2="483.6" stroke="#70ad47" stroke-width="2.65" stroke-linecap="round"/>
<text x="503.2" y="487.85">R1</text>
<line x1="478.3" y1="501.3" x2="499.9" y2="501.3" stroke="#5a9a3c" stroke-width="2.65" stroke-linecap="round"/>
<text x="503.2" y="505.55">R2</text>
<line x1="478.3" y1="519.2" x2="499.9" y2="519.2" stroke="#4b6b2e" stroke-width="2.65" stroke-linecap="round"/>
<text x="503.2" y="523.45">R3</text>
<line x1="478.3" y1="537.3" x2="499.9" y2="537.3" stroke="#bad4a9" stroke-width="2.65" stroke-linecap="round"/>
<text x="503.2" y="541.55">R4</text>
<line x1="478.3" y1="555.3" x2="499.9" y2="555.3" stroke="#70ad47" stroke-width="2.65" stroke-linecap="round"/>
<text x="503.2" y="559.55">R5</text>
</g>
<rect x="153.5" y="112" width="114.5" height="31.7" rx="5.5" fill="#00ad50"/>
<text x="210.75" y="134.58" text-anchor="middle" class="bd" style="font-size:18.7px">陆上风电</text>
<rect x="582" y="112" width="115.2" height="31.7" rx="5.5" fill="#00ad50"/>
<text x="639.6" y="134.58" text-anchor="middle" class="bd" style="font-size:18.7px">海上风电</text>
<rect x="158" y="376" width="114.7" height="30.7" rx="5.5" fill="#00ad50"/>
<text x="215.35" y="398.08" text-anchor="middle" class="bd" style="font-size:18.7px">太阳能发电</text>
<rect x="576.2" y="376" width="138.8" height="30.7" rx="5.5" fill="#00ad50"/>
<text x="645.6" y="398.08" text-anchor="middle" class="bd" style="font-size:18.7px">生物质能发电</text>
<rect x="344.8" y="323" width="146" height="36.1" rx="8" fill="#00ad50"/>
<text x="417.8" y="349.44" text-anchor="middle" class="bd" style="font-size:23.3px">可再生能源</text>
<text x="404.7" y="621.3" font-size="14" style="font-size:14px">（IEA, 2021; Wiser et al, 2021; IRENA, 2019; 潘莹和迟东训, 2017）</text>
<g fill="none" stroke="#dcdcdc" stroke-width="1">
<circle cx="9.4" cy="615.9" r="8.3"/>
<circle cx="31.8" cy="615.9" r="8.3"/>
<circle cx="54" cy="615.9" r="8.3"/>
<circle cx="76" cy="615.9" r="8.3"/>
<circle cx="98" cy="615.9" r="8.3"/>
<circle cx="120.1" cy="615.9" r="8.3"/>
<path d="M11.6 612.4 L7 615.9 L11.6 619.4 Z"/>
<path d="M29.8 612.4 L34.4 615.9 L29.8 619.4 Z"/>
<path d="M50.2 620 L51.2 617.2 L57.2 611.2 L58.6 612.6 L52.8 618.8 Z"/>
<rect x="72.4" y="611.6" width="5.4" height="5.4"/><rect x="74.4" y="614" width="5.6" height="5.6" fill="#ececec"/>
<circle cx="97" cy="614.6" r="3.1"/><path d="M99.3 617 L102.3 620.2" stroke-width="1.4"/>
<path d="M116 615.9 h1.4 M118.4 615.9 h1.4 M120.8 615.9 h1.4 M123.2 615.9 h1.4" stroke-width="1.3"/>
</g>
<path d="M644.3 278.2 L644.3 287.6 L646.4 285.7 L648 289 L649.3 288.4 L647.8 285.2 L650.9 284.6 Z" fill="#fff" stroke="#3a3a48" stroke-width="0.8" stroke-linejoin="round"/>
</svg>
</body>
</html>
